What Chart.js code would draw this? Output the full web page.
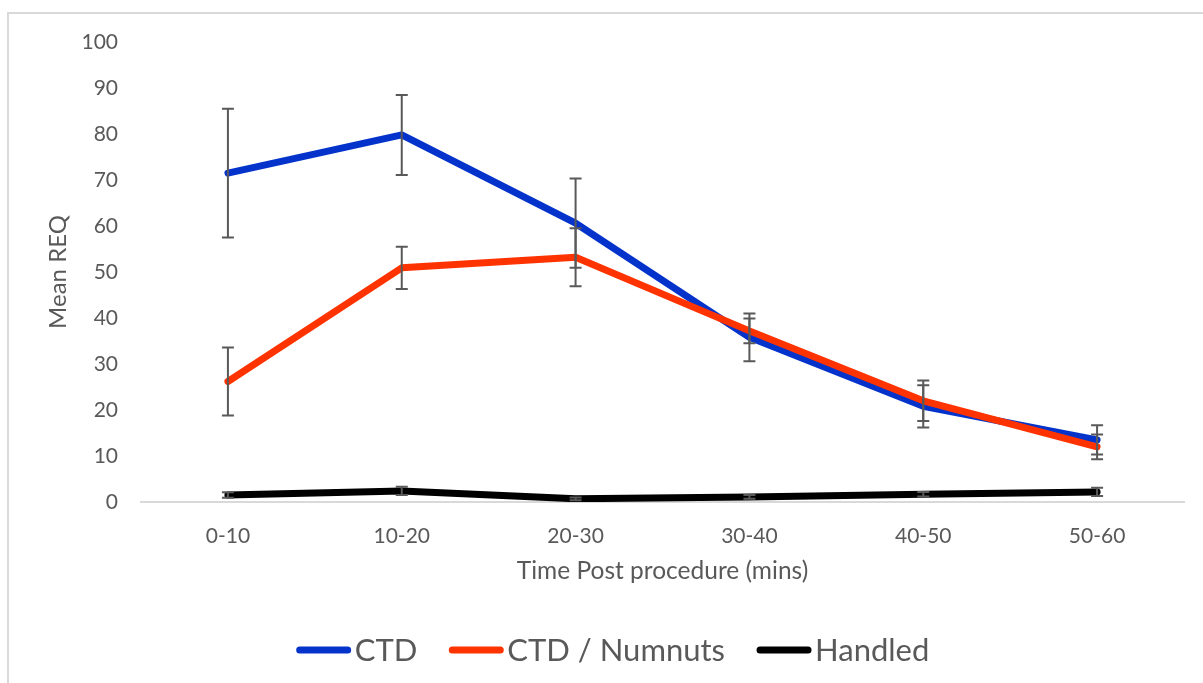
<!DOCTYPE html>
<html>
<head>
<meta charset="utf-8">
<script src="https://cdn.jsdelivr.net/npm/chart.js@4.4.0/dist/chart.umd.min.js"></script>
<style>
  html, body { margin: 0; padding: 0; background: #ffffff; }
  #wrap { width: 1203px; height: 683px; position: relative; }
</style>
</head>
<body>
<div id="wrap"><canvas id="chart" width="1203" height="683"></canvas></div>
<script>
// Time windows after the procedure
const categories = ['0-10', '10-20', '20-30', '30-40', '40-50', '50-60'];

// Mean REQ per group and their error bar half-widths
const ctdValues      = [71.5, 79.8, 60.6, 35.8, 20.8, 13.5];
const ctdErrors      = [14.0,  8.7,  9.7,  5.2,  4.6,  3.2];
const numnutsValues  = [26.2, 50.9, 53.2, 37.2, 22.0, 12.0];
const numnutsErrors  = [ 7.4,  4.6,  6.3,  2.7,  4.4,  2.7];
const handledValues  = [ 1.5,  2.4,  0.7,  1.1,  1.7,  2.2];
const handledErrors  = [ 0.6,  0.9,  0.3,  0.4,  0.5,  0.9];

// Y axis ticks
const yTicks = [0, 10, 20, 30, 40, 50, 60, 70, 80, 90, 100];

const FONT = 'Lato, "Open Sans", sans-serif';
const TEXT = '#595959';

// Light frame along the top and left edge of the chart
const framePlugin = {
  id: 'frame',
  beforeDraw(chart) {
    const ctx = chart.ctx;
    ctx.save();
    ctx.strokeStyle = '#d9d9d9';
    ctx.lineWidth = 2;
    ctx.beginPath();
    ctx.moveTo(8, chart.height);
    ctx.lineTo(8, 13);
    ctx.lineTo(chart.width, 13);
    ctx.stroke();
    ctx.restore();
  }
};

// Error bars with caps, drawn above the lines
const errorBarPlugin = {
  id: 'errorBars',
  afterDatasetsDraw(chart) {
    const ctx = chart.ctx;
    const y = chart.scales.y;
    ctx.save();
    ctx.strokeStyle = '#595959';
    ctx.lineWidth = 2;
    chart.data.datasets.forEach((ds, i) => {
      const meta = chart.getDatasetMeta(i);
      ds.errors.forEach((e, j) => {
        const pt = meta.data[j];
        const v = ds.data[j];
        const top = y.getPixelForValue(v + e);
        const bot = y.getPixelForValue(v - e);
        const x = pt.x;
        ctx.beginPath();
        ctx.moveTo(x, top); ctx.lineTo(x, bot);
        ctx.moveTo(x - 6, top); ctx.lineTo(x + 6, top);
        ctx.moveTo(x - 6, bot); ctx.lineTo(x + 6, bot);
        ctx.stroke();
      });
    });
    ctx.restore();
  }
};

// Legend row under the axis title: line swatch followed by the series name
const legendPlugin = {
  id: 'lineLegend',
  afterDraw(chart) {
    const ctx = chart.ctx;
    const swatch = 54, textGap = 4, itemGap = 32, cy = 650;
    ctx.save();
    ctx.font = '31px ' + FONT;
    ctx.textBaseline = 'middle';
    const items = chart.data.datasets.map(ds => ({
      label: ds.label, color: ds.borderColor, w: ctx.measureText(ds.label).width
    }));
    const total = items.reduce((s, it) => s + swatch + textGap + it.w, 0) + itemGap * (items.length - 1);
    let x = 613 - total / 2;
    items.forEach(it => {
      ctx.strokeStyle = it.color;
      ctx.lineWidth = 7;
      ctx.lineCap = 'round';
      ctx.beginPath();
      ctx.moveTo(x + 3, cy); ctx.lineTo(x + swatch - 3, cy);
      ctx.stroke();
      ctx.fillStyle = TEXT;
      ctx.fillText(it.label, x + swatch + textGap, cy + 1);
      x += swatch + textGap + it.w + itemGap;
    });
    ctx.restore();
  }
};

const lineStyle = {
  borderWidth: 7,
  pointRadius: 0,
  pointHoverRadius: 0,
  tension: 0,
  borderCapStyle: 'round',
  borderJoinStyle: 'round',
  fill: false
};

new Chart(document.getElementById('chart'), {
  type: 'line',
  data: {
    labels: categories,
    datasets: [
      Object.assign({ label: 'CTD', data: ctdValues, errors: ctdErrors,
        borderColor: '#0433cc', backgroundColor: '#0433cc', order: 3 }, lineStyle),
      Object.assign({ label: 'CTD / Numnuts', data: numnutsValues, errors: numnutsErrors,
        borderColor: '#ff3300', backgroundColor: '#ff3300', order: 2 }, lineStyle),
      Object.assign({ label: 'Handled', data: handledValues, errors: handledErrors,
        borderColor: '#000000', backgroundColor: '#000000', order: 1 }, lineStyle)
    ]
  },
  options: {
    responsive: false,
    animation: false,
    events: [],
    layout: { padding: { top: 42, right: 19, bottom: 0, left: 0 } },
    plugins: {
      legend: { display: false },
      tooltip: { enabled: false }
    },
    scales: {
      x: {
        offset: true,
        grid: { display: false, drawTicks: false },
        border: { display: true, color: '#d9d9d9', width: 2 },
        ticks: { color: TEXT, font: { family: FONT, size: 21 }, padding: 22, maxRotation: 0 },
        title: { display: true, text: 'Time Post procedure (mins)', color: TEXT,
          font: { family: FONT, size: 24.5 }, padding: { top: 0, bottom: 97 } },
        afterFit(scale) { scale.height = 181; }
      },
      y: {
        min: 0, max: 100,
        afterBuildTicks(scale) { scale.ticks = yTicks.map(v => ({ value: v })); },
        grid: { display: false, drawTicks: false },
        border: { display: false },
        ticks: { color: TEXT, font: { family: FONT, size: 21 }, padding: 23 },
        title: { display: true, text: 'Mean REQ', color: TEXT,
          font: { family: FONT, size: 24 }, padding: { top: 44, bottom: 0 } },
        afterFit(scale) { scale.width = 141; }
      }
    }
  },
  plugins: [framePlugin, errorBarPlugin, legendPlugin]
});
</script>
</body>
</html>
